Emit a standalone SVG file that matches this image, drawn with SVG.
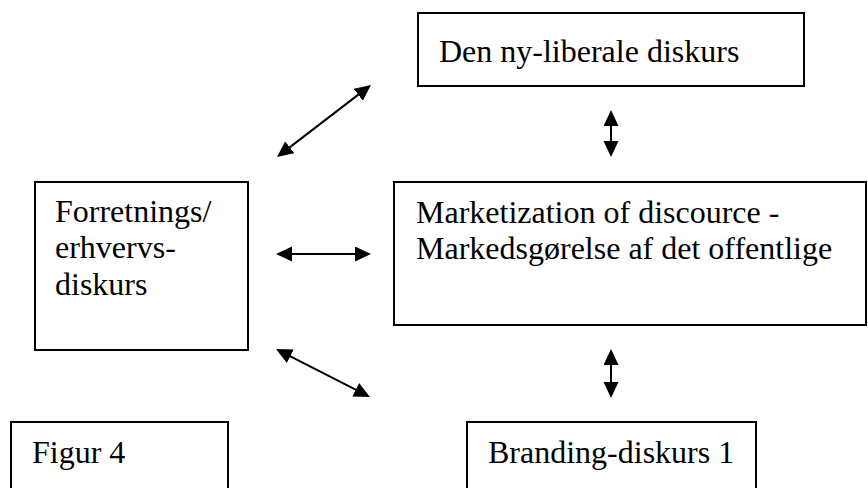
<svg xmlns="http://www.w3.org/2000/svg" width="868" height="488" viewBox="0 0 868 488">
<defs>
<style>
.box{fill:#fff;stroke:#000;stroke-width:2}
.t{font-size:32px;fill:#000}
.c{stroke:#000;stroke-width:2;fill:none;marker-start:url(#ah);marker-end:url(#ah)}
</style>
<marker id="ah" markerUnits="userSpaceOnUse" markerWidth="16" markerHeight="16" refX="12" refY="7.5" orient="auto-start-reverse" viewBox="0 0 16 16">
<path d="M0,0 L16,7.5 L0,15 Z" fill="#000"/>
</marker>
</defs>
<rect width="868" height="488" fill="#fff"/>
<g font-family="'Liberation Serif', 'Times New Roman', serif">
<g id="ny-liberale">
<rect class="box" x="418" y="13" width="386" height="73"/>
<text class="t" x="439" y="62">Den ny-liberale diskurs</text>
</g>
<g id="forretnings">
<rect class="box" x="35" y="182" width="213" height="168"/>
<text class="t" x="55" y="222">Forretnings/</text>
<text class="t" x="55" y="258">erhvervs-</text>
<text class="t" x="55" y="295">diskurs</text>
</g>
<g id="marketization">
<rect class="box" x="394" y="182" width="472" height="143"/>
<text class="t" x="416" y="223">Marketization of discource -</text>
<text class="t" x="416" y="259">Markedsgørelse af det offentlige</text>
</g>
<g id="figur4">
<rect class="box" x="11" y="422" width="217" height="80"/>
<text class="t" x="32" y="463">Figur 4</text>
</g>
<g id="branding">
<rect class="box" x="467" y="422" width="289" height="80"/>
<text class="t" x="488" y="463">Branding-diskurs 1</text>
</g>
</g>
<g id="connectors">
<line class="c" x1="280.2" y1="154.6" x2="367.8" y2="87.4"/>
<line class="c" x1="611" y1="114" x2="611" y2="153"/>
<line class="c" x1="280" y1="254" x2="367" y2="254"/>
<line class="c" x1="279.6" y1="350.8" x2="366.4" y2="395.2"/>
<line class="c" x1="611" y1="353" x2="611" y2="394"/>
</g>
</svg>
